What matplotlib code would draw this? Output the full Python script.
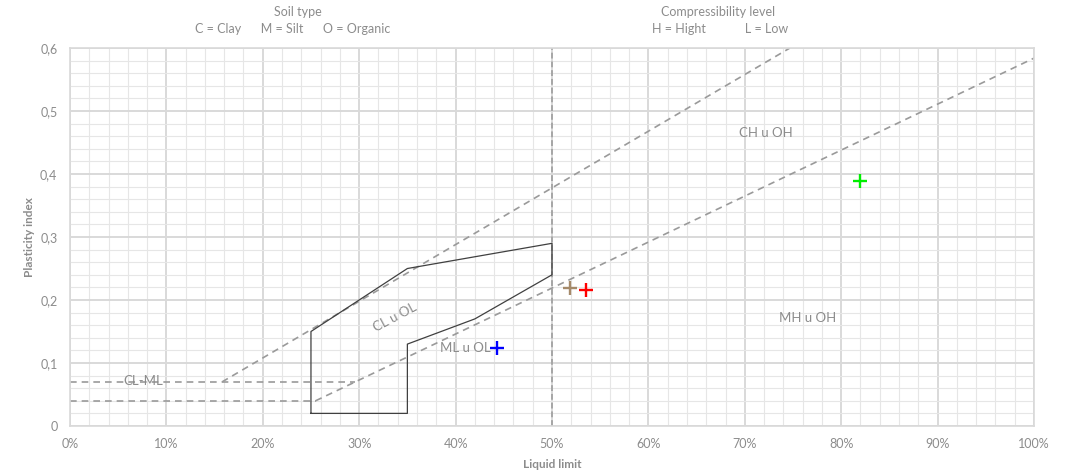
import matplotlib
matplotlib.use("Agg")
import matplotlib.pyplot as plt
from matplotlib.ticker import MultipleLocator, FuncFormatter

plt.rcParams['font.family'] = ['Lato', 'DejaVu Sans']

# Boundary lines of the plasticity chart (liquid limit, plasticity index)
a_line_ll = [0.2548, 1.00]
a_line_pi = [0.04, 0.584]
u_line_ll = [0.1578, 0.7467]
u_line_pi = [0.07, 0.60]
clml_upper_ll = [0.0, 0.2959]
clml_upper_pi = [0.07, 0.07]
clml_lower_ll = [0.0, 0.2548]
clml_lower_pi = [0.04, 0.04]
divide_ll = [0.50, 0.50]
divide_pi = [0.0, 0.60]

# Outline of the low-compressibility zone
zone_ll = [0.25, 0.25, 0.35, 0.50, 0.50, 0.42, 0.35, 0.35, 0.25]
zone_pi = [0.02, 0.15, 0.25, 0.29, 0.24, 0.17, 0.13, 0.02, 0.02]

# Samples
sample_ll = [0.443, 0.519, 0.535, 0.8195]
sample_pi = [0.124, 0.219, 0.216, 0.389]
sample_colors = ['#0000ff', '#a58a6a', '#ff0000', '#00ee00']

# Zone labels
zone_names = ['CL u OL', 'ML u OL', 'CL-ML', 'CH u OH', 'MH u OH']
zone_name_ll = [0.337, 0.410, 0.076, 0.722, 0.765]
zone_name_pi = [0.172, 0.124, 0.071, 0.465, 0.171]
zone_name_rot = [28, 0, 0, 0, 0]

fig = plt.figure(figsize=(10.76, 4.73), dpi=100)
ax = fig.add_axes([0.065, 0.0994, 0.896, 0.799])

ax.set_xlim(0, 1)
ax.set_ylim(0, 0.6)
ax.xaxis.set_major_locator(MultipleLocator(0.1))
ax.xaxis.set_minor_locator(MultipleLocator(0.02))
ax.yaxis.set_major_locator(MultipleLocator(0.1))
ax.yaxis.set_minor_locator(MultipleLocator(0.02))
ax.xaxis.set_major_formatter(FuncFormatter(lambda v, p: f"{v*100:.0f}%"))
ax.yaxis.set_major_formatter(FuncFormatter(
    lambda v, p: "0" if abs(v) < 1e-9 else f"{v:.1f}".replace('.', ',')))
ax.grid(which='major', color='#d9d9d9', linewidth=1.4, zorder=0)
ax.grid(which='minor', color='#e6e6e6', linewidth=0.8, zorder=0)
ax.set_axisbelow(True)
ax.tick_params(which='both', length=0, labelsize=9, labelcolor='#8c8c8c', pad=9)
for s in ax.spines.values():
    s.set_color('#d9d9d9')
    s.set_linewidth(1.2)

dash = dict(color='#9a9a9a', linewidth=1.2, linestyle=(0, (4, 3)), zorder=2)
ax.plot(a_line_ll, a_line_pi, **dash)
ax.plot(u_line_ll, u_line_pi, **dash)
ax.plot(clml_upper_ll, clml_upper_pi, **dash)
ax.plot(clml_lower_ll, clml_lower_pi, **dash)
ax.plot(divide_ll, divide_pi, color='#a6a6a6', linewidth=1.4,
        linestyle=(0, (3, 1.5)), zorder=2)

ax.plot(zone_ll, zone_pi, color='#404040', linewidth=0.9, zorder=3)

for x, y, c in zip(sample_ll, sample_pi, sample_colors):
    ax.plot(x, y, marker='+', markersize=10, markeredgewidth=1.7, color=c,
            linestyle='none', zorder=5)

for t, x, y, r in zip(zone_names, zone_name_ll, zone_name_pi, zone_name_rot):
    ax.text(x, y, t, ha='center', va='center', rotation=r, fontsize=9.5,
            color='#8c8c8c', zorder=4)

ax.set_xlabel('Liquid limit', fontsize=8.5, fontweight='bold', color='#8c8c8c',
              labelpad=6)
ax.set_ylabel('Plasticity index', fontsize=8.5, fontweight='bold', color='#8c8c8c',
              labelpad=4)

hdr = dict(ha='center', va='center', fontsize=9, color='#8c8c8c')
fig.text(298 / 1076, 1 - 12 / 473, 'Soil type', **hdr)
fig.text(293 / 1076, 1 - 29 / 473, 'C = Clay      M = Silt      O = Organic', **hdr)
fig.text(718 / 1076, 1 - 12 / 473, 'Compressibility level', **hdr)
fig.text(720 / 1076, 1 - 29 / 473, 'H = Hight            L = Low', **hdr)

fig.savefig('out.png', dpi=100, facecolor='white')
